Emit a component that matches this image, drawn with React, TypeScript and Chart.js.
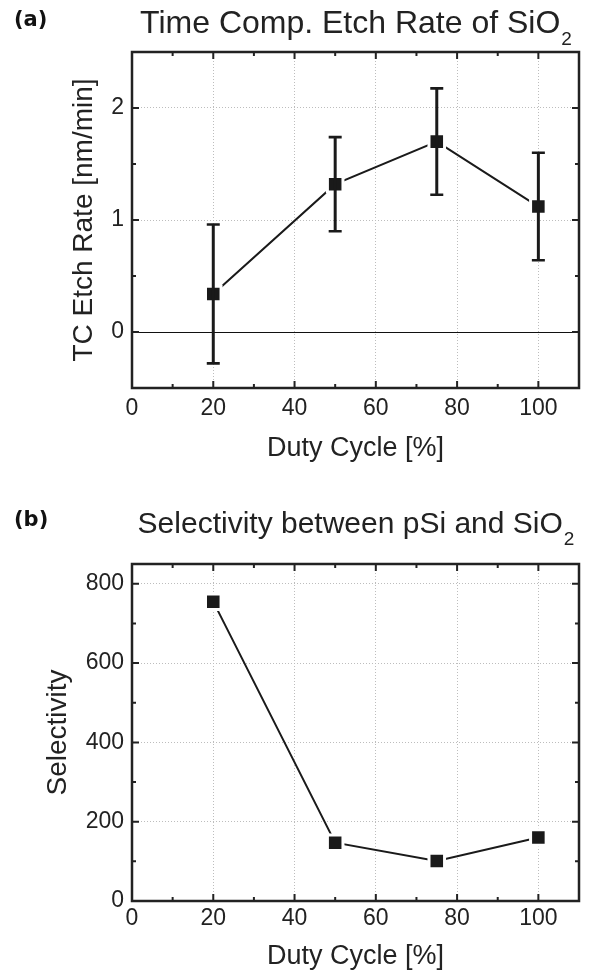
import React, { useEffect, useRef } from "react";
import { Chart, registerables } from "chart.js";

Chart.register(...registerables);

// ---------- data ----------
const dutyCycle = [20, 50, 75, 100];
const etchRate = [0.34, 1.32, 1.7, 1.12];
const etchRateErr = [0.62, 0.42, 0.475, 0.48];
const selectivity = [755, 147, 101, 160];

const xTicks = [0, 20, 40, 60, 80, 100];
const xMinorTicks = [10, 30, 50, 70, 90];
const yTicksA = [0, 1, 2];
const yMinorTicksA = [0.5, 1.5];
const yTicksB = [0, 200, 400, 600, 800];
const yMinorTicksB = [100, 300, 500, 700];

const FONT = "'Liberation Sans', Arial, Helvetica, sans-serif";
const INK = "#222222";

const framePlugin = {
  id: "frame",
  beforeDatasetsDraw(chart: any, _a: any, o: any) {
    const ctx = chart.ctx;
    const area = chart.chartArea;
    if (o.zeroLine) {
      const y = Math.round(chart.scales.y.getPixelForValue(0)) + 0.5;
      ctx.save();
      ctx.strokeStyle = "#111";
      ctx.lineWidth = 1;
      ctx.beginPath();
      ctx.moveTo(area.left, y);
      ctx.lineTo(area.right, y);
      ctx.stroke();
      ctx.restore();
    }
  },
  afterDatasetsDraw(chart: any, _a: any, o: any) {
    if (!o.err) return;
    const ctx = chart.ctx;
    const xs = chart.scales.x;
    const ys = chart.scales.y;
    ctx.save();
    ctx.strokeStyle = "#1a1a1a";
    for (let i = 0; i < o.errX.length; i++) {
      const x = xs.getPixelForValue(o.errX[i]);
      const yt = ys.getPixelForValue(o.errY[i] + o.err[i]);
      const yb = ys.getPixelForValue(o.errY[i] - o.err[i]);
      ctx.lineWidth = 3;
      ctx.beginPath();
      ctx.moveTo(x, yt);
      ctx.lineTo(x, yb);
      ctx.stroke();
      ctx.lineWidth = 2.6;
      ctx.beginPath();
      ctx.moveTo(x - 6.5, yt);
      ctx.lineTo(x + 6.5, yt);
      ctx.moveTo(x - 6.5, yb);
      ctx.lineTo(x + 6.5, yb);
      ctx.stroke();
    }
    ctx.restore();
  },
  afterDraw(chart: any, _a: any, o: any) {
    const ctx = chart.ctx;
    const a = chart.chartArea;
    const xs = chart.scales.x;
    const ys = chart.scales.y;
    ctx.save();
    ctx.strokeStyle = INK;
    // ticks (inward) on all four sides
    ctx.lineWidth = 2;
    const vt = (vals: number[], len: number) => {
      for (const v of vals) {
        const x = xs.getPixelForValue(v);
        ctx.beginPath();
        ctx.moveTo(x, a.bottom);
        ctx.lineTo(x, a.bottom - len);
        ctx.moveTo(x, a.top);
        ctx.lineTo(x, a.top + len);
        ctx.stroke();
      }
    };
    const ht = (vals: number[], len: number) => {
      for (const v of vals) {
        const y = ys.getPixelForValue(v);
        ctx.beginPath();
        ctx.moveTo(a.left, y);
        ctx.lineTo(a.left + len, y);
        ctx.moveTo(a.right, y);
        ctx.lineTo(a.right - len, y);
        ctx.stroke();
      }
    };
    vt(o.xMajor, 7);
    vt(o.xMinor, 4);
    ht(o.yMajor, 7);
    ht(o.yMinor, 4);
    // frame
    ctx.lineWidth = 2.5;
    ctx.strokeRect(a.left, a.top, a.right - a.left, a.bottom - a.top);
    // tag
    ctx.fillStyle = "#111";
    ctx.font = `bold 21px 'DejaVu Sans', sans-serif`;
    ctx.textAlign = "left";
    ctx.textBaseline = "alphabetic";
    ctx.fillText(o.tag, 14, o.titleBase - 7);
    // title with subscript
    ctx.fillStyle = INK;
    const mainFont = `${o.titleSize}px ${FONT}`;
    const subFont = `19px ${FONT}`;
    ctx.font = mainFont;
    const w1 = ctx.measureText(o.title).width;
    ctx.font = subFont;
    const w2 = ctx.measureText(o.sub).width;
    const cx = (a.left + a.right) / 2;
    const x0 = cx - (w1 + w2) / 2;
    ctx.font = mainFont;
    ctx.fillText(o.title, x0, o.titleBase);
    ctx.font = subFont;
    ctx.fillText(o.sub, x0 + w1 + 1, o.titleBase + 12);
    ctx.restore();
  },
};

type Panel = {
  y: number[];
  yMin: number;
  yMax: number;
  yTicks: number[];
  yMinor: number[];
  yTitle: string;
  yTitlePad: number;
  areaTop: number;
  xScaleHeight: number;
  xTickPad: number;
  xTitlePad: number;
  tag: string;
  title: string;
  titleSize: number;
  sub: string;
  titleBase: number;
  zeroLine: boolean;
  err?: number[];
};

function makeChart(canvas: HTMLCanvasElement, p: Panel) {
  const tickFont = { family: FONT, size: 23 };
  const titleFont = { family: FONT, size: 27 };
  const yTitleFont = { family: FONT, size: 28 };
  return new Chart(canvas, {
    type: "line",
    data: {
      datasets: [
        {
          data: dutyCycle.map((x, i) => ({ x, y: p.y[i] })),
          borderColor: "#1a1a1a",
          borderWidth: 2,
          pointStyle: "rect",
          pointRadius: 11,
          pointBackgroundColor: "#1a1a1a",
          pointBorderColor: "#ffffff",
          pointBorderWidth: 3,
          tension: 0,
        },
      ],
    },
    options: {
      responsive: false,
      animation: false,
      devicePixelRatio: 1,
      layout: { padding: { top: p.areaTop, right: 1.5, left: 0, bottom: 0 } },
      plugins: {
        legend: { display: false },
        tooltip: { enabled: false },
        frame: {
          zeroLine: p.zeroLine,
          err: p.err,
          errX: dutyCycle,
          errY: p.y,
          xMajor: xTicks,
          xMinor: xMinorTicks,
          yMajor: p.yTicks,
          yMinor: p.yMinor,
          tag: p.tag,
          title: p.title,
          titleSize: p.titleSize,
          sub: p.sub,
          titleBase: p.titleBase,
        },
      } as any,
      scales: {
        x: {
          type: "linear",
          min: 0,
          max: 110,
          afterBuildTicks: (s: any) => {
            s.ticks = xTicks.map((v) => ({ value: v }));
          },
          afterFit: (s: any) => {
            s.height = p.xScaleHeight;
          },
          grid: { color: "#bdbdbd", lineWidth: 1, drawTicks: false },
          border: { display: false, dash: [1, 2] },
          ticks: { padding: p.xTickPad, color: INK, font: tickFont, maxRotation: 0 },
          title: {
            display: true,
            text: "Duty Cycle [%]",
            color: INK,
            font: titleFont,
            padding: { top: 0, bottom: p.xTitlePad },
          },
        },
        y: {
          type: "linear",
          min: p.yMin,
          max: p.yMax,
          afterBuildTicks: (s: any) => {
            s.ticks = p.yTicks.map((v) => ({ value: v }));
          },
          afterFit: (s: any) => {
            s.width = 132;
          },
          grid: { color: "#bdbdbd", lineWidth: 1, drawTicks: false },
          border: { display: false, dash: [1, 2] },
          ticks: { padding: 8, color: INK, font: tickFont },
          title: {
            display: true,
            text: p.yTitle,
            color: INK,
            font: yTitleFont,
            padding: { top: p.yTitlePad, bottom: 0 },
          },
        },
      },
    } as any,
    plugins: [framePlugin as any],
  });
}

const panelA: Panel = {
  y: etchRate,
  yMin: -0.5,
  yMax: 2.5,
  yTicks: yTicksA,
  yMinor: yMinorTicksA,
  yTitle: "TC Etch Rate [nm/min]",
  yTitlePad: 67,
  areaTop: 52,
  xScaleHeight: 99,
  xTickPad: 7,
  xTitlePad: 22,
  tag: "(a)",
  title: "Time Comp. Etch Rate of SiO",
  titleSize: 32,
  sub: "2",
  titleBase: 33,
  zeroLine: true,
  err: etchRateErr,
};

const panelB: Panel = {
  y: selectivity,
  yMin: 0,
  yMax: 850,
  yTicks: yTicksB,
  yMinor: yMinorTicksB,
  yTitle: "Selectivity",
  yTitlePad: 41,
  areaTop: 77,
  xScaleHeight: 74,
  xTickPad: 4,
  xTitlePad: 2,
  tag: "(b)",
  title: "Selectivity between pSi and SiO",
  titleSize: 30,
  sub: "2",
  titleBase: 46,
  zeroLine: false,
};

export default function App() {
  const refA = useRef<HTMLCanvasElement>(null);
  const refB = useRef<HTMLCanvasElement>(null);
  useEffect(() => {
    const ca = makeChart(refA.current!, panelA);
    const cb = makeChart(refB.current!, panelB);
    return () => {
      ca.destroy();
      cb.destroy();
    };
  }, []);
  return (
    <div style={{ position: "absolute", left: 0, top: 0, width: 593, height: 975, background: "#fff" }}>
      <canvas ref={refA} width={593} height={487} style={{ display: "block", width: 593, height: 487 }} />
      <canvas ref={refB} width={593} height={488} style={{ display: "block", width: 593, height: 488 }} />
    </div>
  );
}
